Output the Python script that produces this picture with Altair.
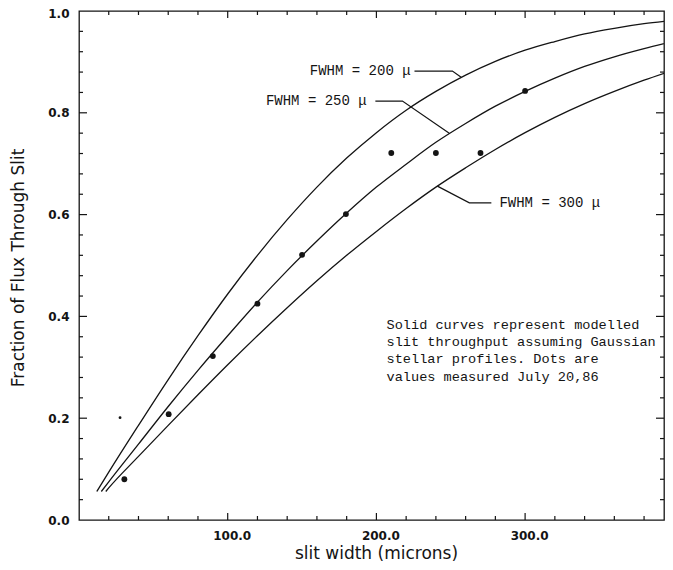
import altair as alt
import pandas as pd

# ---- data ----
fwhm200_x = [12, 20, 40, 60, 80, 100, 120, 140, 160, 180, 200, 220, 240, 260, 280, 300, 320, 340, 360, 380, 398]
fwhm200_y = [0.056, 0.094, 0.186, 0.276, 0.362, 0.444, 0.520, 0.590, 0.654, 0.711, 0.761, 0.805, 0.842, 0.874, 0.901,
             0.923, 0.940, 0.955, 0.966, 0.975, 0.981]
fwhm250_x = [15, 20, 40, 60, 80, 100, 120, 140, 160, 180, 200, 220, 240, 260, 280, 300, 320, 340, 360, 380, 398]
fwhm250_y = [0.056, 0.075, 0.149, 0.223, 0.294, 0.362, 0.428, 0.490, 0.548, 0.603, 0.654, 0.699, 0.742, 0.779, 0.813,
             0.842, 0.868, 0.891, 0.910, 0.926, 0.939]
fwhm300_x = [18, 20, 40, 60, 80, 100, 120, 140, 160, 180, 200, 220, 240, 260, 280, 300, 320, 340, 360, 380, 398]
fwhm300_y = [0.056, 0.063, 0.125, 0.186, 0.246, 0.305, 0.362, 0.417, 0.470, 0.520, 0.567, 0.612, 0.654, 0.692, 0.728,
             0.761, 0.791, 0.818, 0.842, 0.864, 0.882]

dots_x = [30.5, 60.3, 90, 120, 150, 179.5, 210, 240, 270, 300]
dots_y = [0.080, 0.208, 0.322, 0.425, 0.521, 0.601, 0.721, 0.721, 0.721, 0.843]
stray_x = [27.6]
stray_y = [0.201]

x_labels = [100, 200, 300]
y_labels = [0.0, 0.2, 0.4, 0.6, 0.8, 1.0]
x_major = [100, 200, 300]
x_minor = [20, 40, 60, 80, 120, 140, 160, 180, 220, 240, 260, 280, 320, 340, 360, 380]
y_major = [0.2, 0.4, 0.6, 0.8]
y_minor = [0.04, 0.08, 0.12, 0.16, 0.24, 0.28, 0.32, 0.36, 0.44, 0.48, 0.52, 0.56,
           0.64, 0.68, 0.72, 0.76, 0.84, 0.88, 0.92, 0.96]

curve_names = ["FWHM = 200 μ", "FWHM = 250 μ", "FWHM = 300 μ"]
leader_200_x = [225.6, 251.1, 257.0]
leader_200_y = [0.882, 0.882, 0.870]
leader_250_x = [199.3, 217.5, 249.0]
leader_250_y = [0.823, 0.823, 0.760]
leader_300_x = [277.3, 262.5, 241.0]
leader_300_y = [0.623, 0.623, 0.656]
label_pos_x = [223.0, 193.5, 282.7]
label_pos_y = [0.882, 0.823, 0.623]

note_lines = ["Solid curves represent modelled",
              "slit throughput assuming Gaussian",
              "stellar profiles. Dots are",
              "values measured July 20,86"]
note_x = [206.8]
note_y = [0.3835]

# ---- build tables ----
curves = pd.concat([
    pd.DataFrame({"x": fwhm200_x, "y": fwhm200_y, "s": "200"}),
    pd.DataFrame({"x": fwhm250_x, "y": fwhm250_y, "s": "250"}),
    pd.DataFrame({"x": fwhm300_x, "y": fwhm300_y, "s": "300"}),
])
dots = pd.DataFrame({"x": dots_x, "y": dots_y})
stray = pd.DataFrame({"x": stray_x, "y": stray_y})
leaders = pd.concat([
    pd.DataFrame({"x": leader_200_x, "y": leader_200_y, "s": "200", "o": [0, 1, 2]}),
    pd.DataFrame({"x": leader_250_x, "y": leader_250_y, "s": "250", "o": [0, 1, 2]}),
    pd.DataFrame({"x": leader_300_x, "y": leader_300_y, "s": "300", "o": [0, 1, 2]}),
])
labels = pd.DataFrame({"x": label_pos_x, "y": label_pos_y, "t": curve_names})
note = pd.DataFrame({"x": note_x, "y": note_y})

# the page is 673 px wide with 8 px margins: the plot keeps the reference's
# pixels-per-micron and stops just inside the right margin
W, H = 585, 509
XMAX = 393.4
INK = "#141414"
TICKFONT = "DejaVu Sans"

xscale = alt.Scale(domain=[0, XMAX], nice=False, zero=False)
yscale = alt.Scale(domain=[0, 1], nice=False, zero=False)
xaxis = alt.Axis(values=x_labels, format=".1f", ticks=False, domain=False, grid=False,
                 labelFont=TICKFONT, labelFontWeight="bold", labelFontSize=12, labelColor=INK,
                 labelPadding=10, labelOffset=4, title="slit width (microns)", titleFont=TICKFONT,
                 titleFontWeight="normal", titleFontSize=17, titleColor=INK,
                 titleX=297, titleY=33, titleBaseline="middle", titleAlign="center")
yaxis = alt.Axis(values=y_labels, format=".1f", ticks=False, domain=False, grid=False,
                 labelFont=TICKFONT, labelFontWeight="bold", labelFontSize=12, labelColor=INK,
                 labelPadding=10,
                 labelOffset={"condition": {"test": "datum.value == 1", "value": 2.5}, "value": 0},
                 title="Fraction of Flux Through Slit", titleFont=TICKFONT,
                 titleFontWeight="normal", titleFontSize=17, titleColor=INK,
                 titleX=-61, titleY=H / 2 + 2, titleAngle=270, titleBaseline="middle", titleAlign="center")


def X(f="x"):
    return alt.X(f"{f}:Q", scale=xscale, axis=xaxis)


def Y(f="y"):
    return alt.Y(f"{f}:Q", scale=yscale, axis=yaxis)


curve_layer = alt.Chart(curves).mark_line(color=INK, strokeWidth=1.3, interpolate="monotone", clip=True).encode(
    x=X(), y=Y(), detail="s:N")
dot_layer = alt.Chart(dots).mark_point(filled=True, color=INK, size=34, opacity=1).encode(x=X(), y=Y())
stray_layer = alt.Chart(stray).mark_point(filled=True, color=INK, size=8, opacity=1).encode(x=X(), y=Y())
leader_layer = alt.Chart(leaders).mark_line(color=INK, strokeWidth=1.2).encode(
    x=X(), y=Y(), detail="s:N", order="o:Q")
label_r = alt.Chart(labels.iloc[:2]).mark_text(align="right", baseline="middle", font="Liberation Mono",
                                               fontSize=14, color=INK).encode(x=X(), y=Y(), text="t:N")
label_l = alt.Chart(labels.iloc[2:]).mark_text(align="left", baseline="middle", font="Liberation Mono",
                                               fontSize=14, color=INK).encode(x=X(), y=Y(), text="t:N")
note_layer = alt.Chart(note).mark_text(align="left", baseline="middle", font="Liberation Mono",
                                       fontSize=13.6, lineHeight=17.3, color=INK).encode(
    x=X(), y=Y(), text=alt.value(note_lines))

xmaj = pd.DataFrame({"v": x_major})
xmin = pd.DataFrame({"v": x_minor})
ymaj = pd.DataFrame({"v": y_major})
ymin = pd.DataFrame({"v": y_minor})

tick_layers = [
    alt.Chart(xmaj).mark_rule(color=INK, strokeWidth=1.2).encode(x=X("v"), y=alt.value(H), y2=alt.value(H - 7)),
    alt.Chart(xmin).mark_rule(color=INK, strokeWidth=1.2).encode(x=X("v"), y=alt.value(H), y2=alt.value(H - 4)),
    alt.Chart(xmaj).mark_rule(color=INK, strokeWidth=1.2).encode(x=X("v"), y=alt.value(0), y2=alt.value(7)),
    alt.Chart(xmin).mark_rule(color=INK, strokeWidth=1.2).encode(x=X("v"), y=alt.value(0), y2=alt.value(4)),
    alt.Chart(ymaj).mark_rule(color=INK, strokeWidth=1.2).encode(y=Y("v"), x=alt.value(0), x2=alt.value(8)),
    alt.Chart(ymin).mark_rule(color=INK, strokeWidth=1.2).encode(y=Y("v"), x=alt.value(0), x2=alt.value(4)),
    alt.Chart(ymaj).mark_rule(color=INK, strokeWidth=1.2).encode(y=Y("v"), x=alt.value(W), x2=alt.value(W - 8)),
    alt.Chart(ymin).mark_rule(color=INK, strokeWidth=1.2).encode(y=Y("v"), x=alt.value(W), x2=alt.value(W - 4)),
]

chart = alt.layer(curve_layer, dot_layer, stray_layer, leader_layer, label_r, label_l, note_layer,
                  *tick_layers).properties(
    width=W, height=H,
    autosize=alt.AutoSizeParams(type="none"),
    padding={"left": 71, "top": 3, "right": 1, "bottom": 42},
    background="white",
).configure_view(stroke=INK, strokeWidth=1.3)

chart.save("out.html", embed_options={"renderer": "svg", "actions": False})
